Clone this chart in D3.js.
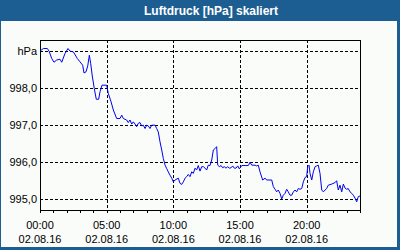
<!DOCTYPE html>
<html>
<head>
<meta charset="utf-8">
<script src="https://cdn.jsdelivr.net/npm/d3@7"></script>
<style>
  body { margin: 0; background: #1d5e92; }
  svg { display: block; }
</style>
</head>
<body>
<div id="chart"></div>
<script>
// hours since 02.08.16 00:00 and pressure in hPa
const hours = [0,0.25,0.55,0.68,0.88,1.05,1.25,1.5,1.63,1.88,2.1,2.25,2.5,2.8,3,3.2,3.3,3.45,3.58,3.7,3.8,3.92,4.07,4.22,4.4,4.5,4.65,5,5.12,5.33,5.5,5.75,6,6.13,6.25,6.5,6.62,6.75,6.88,7,7.13,7.25,7.37,7.5,7.63,7.75,7.88,8,8.12,8.25,8.38,8.63,8.75,8.87,9,9.13,9.25,9.38,9.5,9.62,9.75,9.88,10,10.13,10.37,10.5,10.63,10.75,10.88,11,11.12,11.25,11.38,11.5,11.63,11.75,11.87,12,12.13,12.25,12.38,12.5,12.62,12.75,12.88,13,13.13,13.25,13.33,13.45,13.58,13.7,13.82,13.95,14.08,14.2,14.33,14.45,14.57,14.7,14.83,14.95,15.13,15.38,15.62,15.75,15.88,16.13,16.25,16.37,16.5,16.7,16.88,17,17.38,17.5,17.63,17.75,17.87,18,18.13,18.25,18.38,18.5,18.62,18.75,18.88,19,19.13,19.25,19.37,19.5,19.63,19.75,19.88,20,20.08,20.18,20.25,20.38,20.5,20.63,20.75,20.87,21,21.13,21.25,21.38,21.5,21.62,21.88,22.13,22.25,22.37,22.5,22.63,22.75,22.88,23,23.12,23.25,23.38,23.5,23.63,23.75,23.87,24]
const pressure = [999.00,999.07,999.07,999.00,998.80,998.70,998.76,998.78,998.70,998.94,999.07,999.00,998.98,998.80,998.71,998.62,998.41,998.44,998.60,998.89,998.67,998.33,997.99,997.70,997.70,997.90,998.08,998.08,997.86,997.63,997.41,997.18,997.18,997.27,997.18,997.14,997.07,997.14,997.03,997.09,997.03,996.96,997.05,997.07,996.98,997.00,996.91,997.00,996.98,996.91,997.00,997.00,996.91,996.82,996.55,996.33,996.10,995.92,995.83,995.74,995.65,995.57,995.47,995.52,995.57,995.43,995.40,995.47,995.57,995.61,995.67,995.61,995.74,995.70,995.84,995.79,995.91,995.76,995.88,995.88,995.84,995.79,995.92,995.91,996.06,996.33,996.37,996.42,995.92,995.88,995.91,995.85,995.88,995.84,995.88,995.84,995.85,995.90,995.84,995.84,995.90,995.82,995.91,995.91,995.91,996.00,995.92,995.92,995.90,995.92,995.74,995.52,995.57,995.52,995.52,995.34,995.27,995.20,995.25,995.16,995.01,995.11,995.16,995.27,995.20,995.11,995.11,995.20,995.25,995.20,995.29,995.27,995.29,995.47,995.59,995.61,995.88,995.92,995.70,995.52,995.74,995.88,995.90,995.92,995.70,995.25,995.20,995.25,995.29,995.38,995.41,995.45,995.50,995.25,995.38,995.20,995.41,995.30,995.27,995.29,995.20,995.16,995.11,995.03,994.93,995.07,995.09]

const yTicks = [995, 996, 997, 998, 999]
const xTicks = [0, 5, 10, 15, 20]
const dateLabel = "02.08.16"
const title = "Luftdruck [hPa] skaliert"
const unit = "hPa"

const W = 400, H = 250
const margin = {top: 40, right: 40, bottom: 40, left: 40}
const plotW = 320, plotH = 170

const svg = d3.select("#chart")
  .append("svg")
    .attr("width", W)
    .attr("height", H)
    .style("font-family", "'Liberation Sans', Arial, sans-serif")

// outer frame + title bar
svg.append("rect").attr("width", W).attr("height", H).attr("fill", "#1d5e92")
svg.append("rect")
  .attr("x", 1).attr("y", 21)
  .attr("width", 396).attr("height", 226)
  .attr("fill", "#fafcfa")
svg.append("text")
  .attr("x", 211).attr("y", 15)
  .attr("text-anchor", "middle")
  .attr("fill", "#fff")
  .style("font-weight", "bold")
  .style("font-size", "12px")
  .text(title)

const g = svg.append("g")
  .attr("transform", `translate(${margin.left}, ${margin.top})`)

const x = d3.scaleLinear().domain([0, 24]).range([0, plotW])
const y = d3.scaleLinear().domain([994.71, 999.30]).range([plotH, 0])

// grid
g.selectAll(".hgrid")
  .data(yTicks)
  .join("line")
    .attr("x1", 0).attr("x2", plotW)
    .attr("y1", d => Math.round(y(d)) + 0.5)
    .attr("y2", d => Math.round(y(d)) + 0.5)
    .attr("stroke", "#000")
    .attr("stroke-dasharray", "3,2")
    .attr("shape-rendering", "crispEdges")
g.selectAll(".vgrid")
  .data(xTicks.slice(1))
  .join("line")
    .attr("x1", d => Math.round(x(d)) + 0.5)
    .attr("x2", d => Math.round(x(d)) + 0.5)
    .attr("y1", 0).attr("y2", plotH)
    .attr("stroke", "#000")
    .attr("stroke-dasharray", "3,2")
    .attr("shape-rendering", "crispEdges")

// frame
g.append("rect")
  .attr("x", 0.5).attr("y", 0.5)
  .attr("width", plotW).attr("height", plotH)
  .attr("fill", "none")
  .attr("stroke", "#000")
  .attr("shape-rendering", "crispEdges")

// hour ticks
g.selectAll(".htick")
  .data(d3.range(0, 25))
  .join("line")
    .attr("x1", d => Math.round(x(d)) + 0.5)
    .attr("x2", d => Math.round(x(d)) + 0.5)
    .attr("y1", plotH).attr("y2", plotH + 3)
    .attr("stroke", "#000")
    .attr("shape-rendering", "crispEdges")

// y labels
g.selectAll(".ylab")
  .data(yTicks.slice(0, 4))
  .join("text")
    .attr("x", -3)
    .attr("y", d => y(d) + 4)
    .attr("text-anchor", "end")
    .style("font-size", "11px")
    .text(d => d3.format(".1f")(d).replace(".", ","))
g.append("text")
  .attr("x", -3).attr("y", y(999) + 4)
  .attr("text-anchor", "end")
  .style("font-size", "11px")
  .text(unit)

// x labels
const xl = g.selectAll(".xlab")
  .data(xTicks)
  .join("g")
    .attr("transform", d => `translate(${x(d)}, 0)`)
xl.append("text")
  .attr("y", plotH + 19)
  .attr("text-anchor", "middle")
  .style("font-size", "11px")
  .text(d => d3.format("02d")(d) + ":00")
xl.append("text")
  .attr("y", plotH + 33)
  .attr("text-anchor", "middle")
  .style("font-size", "11px")
  .text(dateLabel)

// line
const line = d3.line()
  .x((d, i) => x(hours[i]))
  .y(d => y(d))
g.append("path")
  .datum(pressure)
  .attr("fill", "none")
  .attr("stroke", "#0000ee")
  .attr("stroke-width", 1)
  .attr("d", line)
</script>
</body>
</html>
